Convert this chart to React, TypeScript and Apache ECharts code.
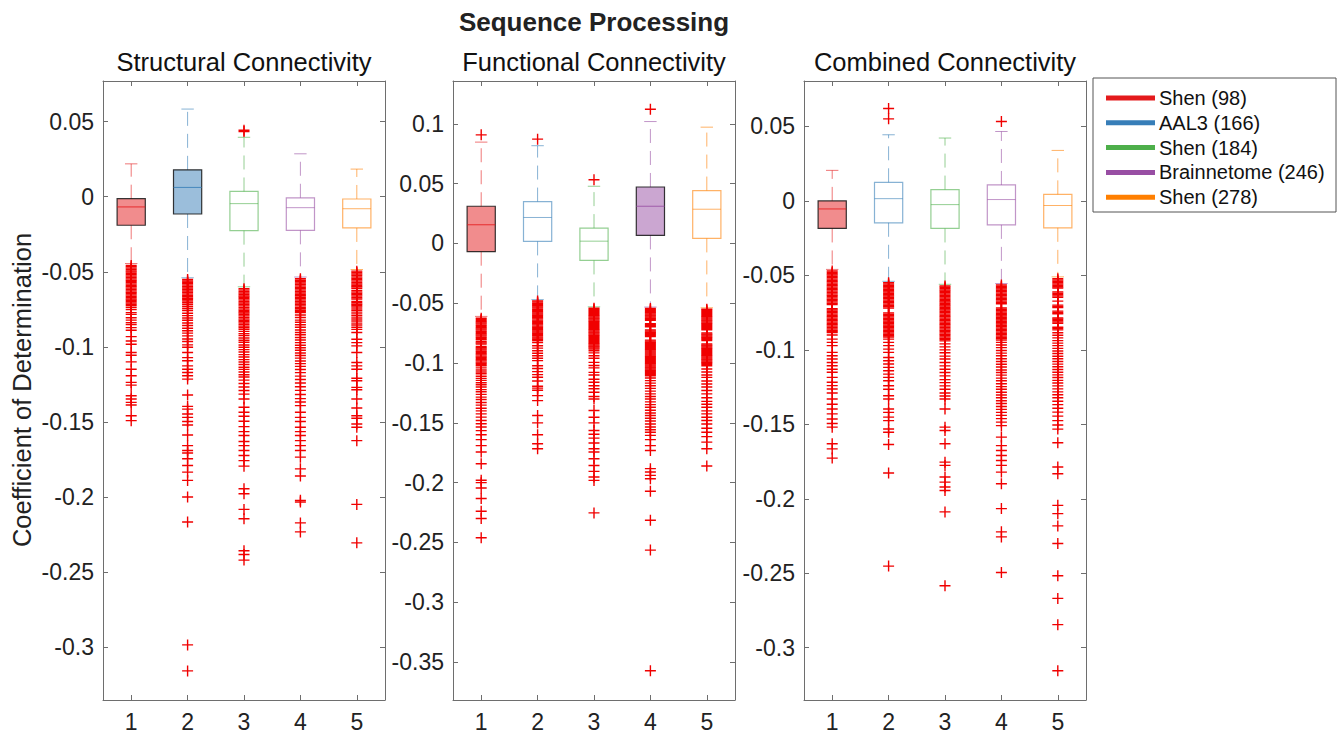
import React, { useEffect, useRef } from "react";
import * as echarts from "echarts";

const categories = ["1", "2", "3", "4", "5"];
const groupNames = ["Shen (98)", "AAL3 (166)", "Shen (184)", "Brainnetome (246)", "Shen (278)"];
const palette = ["#e41a1c", "#377eb8", "#4daf4a", "#984ea3", "#ff7f00"];
const panelTitles = ["Structural Connectivity", "Functional Connectivity", "Combined Connectivity"];
const mainTitle = "Sequence Processing";
const yAxisName = "Coefficient of Determination";

// [lowWhisker, q1, median, q3, highWhisker]
const structuralBoxes = [
  [-0.0445, -0.0190, -0.0068, -0.0013, 0.0219],
  [-0.0540, -0.0115, 0.0062, 0.0179, 0.0584],
  [-0.0600, -0.0226, -0.0046, 0.0035, 0.0396],
  [-0.0535, -0.0224, -0.0073, -0.0007, 0.0286],
  [-0.0485, -0.0208, -0.0080, -0.0015, 0.0184],
];
const functionalBoxes = [
  [-0.0610, -0.0069, 0.0156, 0.0311, 0.0847],
  [-0.0470, 0.0017, 0.0217, 0.0350, 0.0817],
  [-0.0530, -0.0142, 0.0019, 0.0128, 0.0478],
  [-0.0532, 0.0067, 0.0311, 0.0472, 0.1019],
  [-0.0538, 0.0042, 0.0286, 0.0442, 0.0972],
];
const combinedBoxes = [
  [-0.0460, -0.0185, -0.0054, 0.0000, 0.0205],
  [-0.0540, -0.0147, 0.0015, 0.0125, 0.0444],
  [-0.0560, -0.0185, -0.0025, 0.0076, 0.0422],
  [-0.0555, -0.0161, 0.0009, 0.0107, 0.0466],
  [-0.0510, -0.0181, -0.0031, 0.0044, 0.0339],
];

const structuralFilled = [1, 1, 0, 0, 0];
const functionalFilled = [1, 0, 0, 1, 0];
const combinedFilled = [1, 0, 0, 0, 0];

const structuralOutliers = [
  [-0.0458,-0.0467,-0.0476,-0.0485,-0.0494,-0.0502,-0.0511,-0.0520,-0.0529,-0.0538,-0.0547,-0.0556,-0.0564,-0.0573,-0.0582,-0.0591,-0.0600,-0.0609,-0.0618,-0.0627,-0.0636,-0.0645,-0.0654,-0.0663,-0.0672,-0.0681,-0.0690,-0.0699,-0.0708,-0.0717,-0.0726,-0.0739,-0.0752,-0.0772,-0.0784,-0.0806,-0.0822,-0.0839,-0.0851,-0.0872,-0.0890,-0.0932,-0.0961,-0.0983,-0.1038,-0.1056,-0.1100,-0.1149,-0.1193,-0.1237,-0.1255,-0.1326,-0.1348,-0.1370,-0.1388,-0.1459,-0.1492],
  [-0.0551,-0.0561,-0.0570,-0.0580,-0.0589,-0.0599,-0.0608,-0.0618,-0.0628,-0.0637,-0.0647,-0.0656,-0.0666,-0.0676,-0.0685,-0.0695,-0.0706,-0.0718,-0.0731,-0.0745,-0.0758,-0.0776,-0.0792,-0.0808,-0.0823,-0.0841,-0.0858,-0.0876,-0.0893,-0.0909,-0.0927,-0.0948,-0.0965,-0.0987,-0.1003,-0.1038,-0.1072,-0.1093,-0.1127,-0.1149,-0.1171,-0.1193,-0.1215,-0.1321,-0.1397,-0.1415,-0.1448,-0.1470,-0.1498,-0.1521,-0.1587,-0.1658,-0.1691,-0.1707,-0.1746,-0.1791,-0.1835,-0.1890,-0.2001,-0.2167,-0.2986,-0.3159],
  [0.0434,0.0443,-0.0613,-0.0622,-0.0632,-0.0641,-0.0651,-0.0661,-0.0670,-0.0680,-0.0689,-0.0699,-0.0708,-0.0718,-0.0727,-0.0737,-0.0747,-0.0756,-0.0766,-0.0775,-0.0785,-0.0794,-0.0804,-0.0814,-0.0823,-0.0833,-0.0842,-0.0852,-0.0862,-0.0871,-0.0883,-0.0897,-0.0912,-0.0925,-0.0941,-0.0956,-0.0970,-0.0988,-0.1003,-0.1019,-0.1034,-0.1052,-0.1068,-0.1085,-0.1101,-0.1118,-0.1136,-0.1150,-0.1168,-0.1186,-0.1201,-0.1222,-0.1244,-0.1268,-0.1291,-0.1315,-0.1348,-0.1403,-0.1436,-0.1463,-0.1496,-0.1532,-0.1565,-0.1591,-0.1631,-0.1658,-0.1691,-0.1724,-0.1758,-0.1795,-0.1946,-0.1979,-0.2083,-0.2145,-0.2359,-0.2384,-0.2421],
  [-0.0546,-0.0556,-0.0565,-0.0575,-0.0584,-0.0594,-0.0603,-0.0613,-0.0622,-0.0632,-0.0641,-0.0651,-0.0660,-0.0670,-0.0680,-0.0689,-0.0699,-0.0708,-0.0718,-0.0727,-0.0737,-0.0746,-0.0756,-0.0765,-0.0772,-0.0788,-0.0805,-0.0822,-0.0836,-0.0853,-0.0870,-0.0888,-0.0905,-0.0920,-0.0938,-0.0955,-0.0972,-0.0990,-0.1006,-0.1023,-0.1041,-0.1058,-0.1075,-0.1094,-0.1112,-0.1130,-0.1151,-0.1172,-0.1195,-0.1218,-0.1241,-0.1266,-0.1290,-0.1318,-0.1345,-0.1368,-0.1392,-0.1436,-0.1470,-0.1498,-0.1536,-0.1565,-0.1591,-0.1625,-0.1658,-0.1691,-0.1735,-0.1813,-0.1861,-0.2023,-0.2034,-0.2173,-0.2233],
  [-0.0496,-0.0505,-0.0515,-0.0524,-0.0534,-0.0543,-0.0553,-0.0562,-0.0572,-0.0581,-0.0591,-0.0600,-0.0610,-0.0624,-0.0634,-0.0643,-0.0653,-0.0662,-0.0672,-0.0681,-0.0697,-0.0706,-0.0716,-0.0725,-0.0735,-0.0748,-0.0760,-0.0775,-0.0790,-0.0802,-0.0815,-0.0828,-0.0842,-0.0855,-0.0870,-0.0884,-0.0905,-0.0950,-0.0972,-0.0994,-0.1038,-0.1104,-0.1127,-0.1149,-0.1209,-0.1226,-0.1270,-0.1286,-0.1348,-0.1408,-0.1459,-0.1476,-0.1514,-0.1536,-0.1625,-0.2050,-0.2306],
];

const functionalOutliers = [
  [0.0908,-0.0625,-0.0635,-0.0645,-0.0655,-0.0665,-0.0675,-0.0685,-0.0695,-0.0705,-0.0715,-0.0725,-0.0735,-0.0745,-0.0755,-0.0765,-0.0775,-0.0785,-0.0795,-0.0805,-0.0822,-0.0832,-0.0842,-0.0862,-0.0872,-0.0882,-0.0892,-0.0902,-0.0912,-0.0922,-0.0932,-0.0942,-0.0952,-0.0962,-0.0972,-0.0982,-0.0992,-0.1002,-0.1012,-0.1022,-0.1040,-0.1058,-0.1075,-0.1090,-0.1110,-0.1128,-0.1145,-0.1165,-0.1182,-0.1200,-0.1222,-0.1240,-0.1262,-0.1285,-0.1305,-0.1330,-0.1352,-0.1378,-0.1400,-0.1425,-0.1452,-0.1480,-0.1508,-0.1535,-0.1565,-0.1600,-0.1640,-0.1690,-0.1744,-0.1842,-0.1980,-0.2000,-0.2044,-0.2133,-0.2239,-0.2300,-0.2461],
  [0.0872,-0.0481,-0.0491,-0.0501,-0.0511,-0.0521,-0.0531,-0.0541,-0.0551,-0.0561,-0.0571,-0.0581,-0.0591,-0.0601,-0.0611,-0.0621,-0.0631,-0.0641,-0.0651,-0.0661,-0.0671,-0.0681,-0.0691,-0.0701,-0.0711,-0.0721,-0.0731,-0.0741,-0.0751,-0.0761,-0.0771,-0.0781,-0.0791,-0.0801,-0.0811,-0.0828,-0.0856,-0.0875,-0.0897,-0.0918,-0.0939,-0.0960,-0.0980,-0.1022,-0.1045,-0.1072,-0.1097,-0.1119,-0.1150,-0.1194,-0.1210,-0.1228,-0.1272,-0.1314,-0.1439,-0.1500,-0.1600,-0.1675,-0.1717],
  [0.0533,-0.0542,-0.0551,-0.0560,-0.0569,-0.0578,-0.0587,-0.0596,-0.0605,-0.0614,-0.0623,-0.0632,-0.0641,-0.0650,-0.0659,-0.0668,-0.0677,-0.0686,-0.0695,-0.0704,-0.0713,-0.0722,-0.0731,-0.0740,-0.0749,-0.0758,-0.0767,-0.0776,-0.0785,-0.0794,-0.0803,-0.0812,-0.0821,-0.0830,-0.0839,-0.0848,-0.0857,-0.0866,-0.0875,-0.0884,-0.0897,-0.0915,-0.0939,-0.0960,-0.0994,-0.1020,-0.1040,-0.1078,-0.1100,-0.1135,-0.1161,-0.1190,-0.1215,-0.1244,-0.1280,-0.1300,-0.1397,-0.1453,-0.1500,-0.1564,-0.1595,-0.1628,-0.1669,-0.1717,-0.1744,-0.1800,-0.1856,-0.1906,-0.1953,-0.1981,-0.2253],
  [0.1122,-0.0544,-0.0553,-0.0562,-0.0571,-0.0580,-0.0589,-0.0598,-0.0607,-0.0616,-0.0625,-0.0634,-0.0643,-0.0670,-0.0679,-0.0688,-0.0697,-0.0724,-0.0733,-0.0742,-0.0751,-0.0760,-0.0769,-0.0778,-0.0808,-0.0817,-0.0826,-0.0835,-0.0844,-0.0853,-0.0862,-0.0871,-0.0880,-0.0889,-0.0898,-0.0907,-0.0916,-0.0925,-0.0934,-0.0943,-0.0952,-0.0961,-0.0970,-0.0979,-0.0988,-0.0997,-0.1006,-0.1015,-0.1024,-0.1033,-0.1042,-0.1051,-0.1060,-0.1069,-0.1078,-0.1087,-0.1096,-0.1106,-0.1125,-0.1147,-0.1168,-0.1190,-0.1212,-0.1235,-0.1258,-0.1280,-0.1300,-0.1325,-0.1348,-0.1370,-0.1394,-0.1418,-0.1439,-0.1462,-0.1485,-0.1510,-0.1535,-0.1558,-0.1578,-0.1605,-0.1640,-0.1690,-0.1731,-0.1883,-0.1911,-0.1939,-0.1967,-0.2072,-0.2314,-0.2564,-0.3572],
  [-0.0550,-0.0559,-0.0568,-0.0577,-0.0586,-0.0595,-0.0604,-0.0613,-0.0622,-0.0631,-0.0640,-0.0649,-0.0658,-0.0667,-0.0676,-0.0685,-0.0694,-0.0703,-0.0712,-0.0721,-0.0748,-0.0757,-0.0766,-0.0775,-0.0784,-0.0793,-0.0802,-0.0811,-0.0840,-0.0849,-0.0858,-0.0867,-0.0876,-0.0885,-0.0894,-0.0903,-0.0912,-0.0921,-0.0930,-0.0939,-0.0948,-0.0957,-0.0966,-0.0975,-0.0984,-0.0993,-0.1002,-0.1011,-0.1022,-0.1050,-0.1075,-0.1100,-0.1120,-0.1150,-0.1175,-0.1200,-0.1230,-0.1258,-0.1290,-0.1320,-0.1345,-0.1369,-0.1400,-0.1425,-0.1453,-0.1480,-0.1510,-0.1545,-0.1578,-0.1615,-0.1661,-0.1717,-0.1861],
];

const combinedOutliers = [
  [-0.0471,-0.0480,-0.0489,-0.0498,-0.0507,-0.0516,-0.0525,-0.0534,-0.0543,-0.0552,-0.0561,-0.0570,-0.0579,-0.0588,-0.0597,-0.0606,-0.0615,-0.0624,-0.0633,-0.0642,-0.0651,-0.0660,-0.0669,-0.0678,-0.0687,-0.0696,-0.0724,-0.0733,-0.0742,-0.0751,-0.0760,-0.0769,-0.0778,-0.0787,-0.0796,-0.0805,-0.0814,-0.0823,-0.0832,-0.0841,-0.0850,-0.0859,-0.0868,-0.0877,-0.0884,-0.0900,-0.0928,-0.0950,-0.0972,-0.1017,-0.1040,-0.1062,-0.1085,-0.1107,-0.1130,-0.1150,-0.1185,-0.1218,-0.1240,-0.1263,-0.1290,-0.1330,-0.1365,-0.1397,-0.1430,-0.1464,-0.1495,-0.1519,-0.1631,-0.1665,-0.1727],
  [0.0551,0.0620,-0.0549,-0.0558,-0.0567,-0.0576,-0.0585,-0.0594,-0.0603,-0.0612,-0.0621,-0.0630,-0.0639,-0.0648,-0.0657,-0.0666,-0.0675,-0.0684,-0.0693,-0.0702,-0.0711,-0.0720,-0.0752,-0.0761,-0.0770,-0.0779,-0.0788,-0.0797,-0.0806,-0.0815,-0.0824,-0.0833,-0.0842,-0.0851,-0.0860,-0.0869,-0.0878,-0.0887,-0.0896,-0.0905,-0.0914,-0.0928,-0.0950,-0.0972,-0.0995,-0.1017,-0.1051,-0.1073,-0.1095,-0.1118,-0.1140,-0.1163,-0.1185,-0.1208,-0.1241,-0.1265,-0.1308,-0.1330,-0.1397,-0.1420,-0.1452,-0.1475,-0.1531,-0.1553,-0.1636,-0.1827,-0.2452],
  [-0.0571,-0.0580,-0.0589,-0.0598,-0.0607,-0.0616,-0.0625,-0.0634,-0.0643,-0.0652,-0.0661,-0.0670,-0.0679,-0.0688,-0.0697,-0.0706,-0.0715,-0.0724,-0.0733,-0.0742,-0.0751,-0.0760,-0.0769,-0.0778,-0.0787,-0.0796,-0.0805,-0.0814,-0.0823,-0.0832,-0.0841,-0.0850,-0.0859,-0.0868,-0.0877,-0.0886,-0.0895,-0.0904,-0.0913,-0.0922,-0.0931,-0.0940,-0.0960,-0.0980,-0.1000,-0.1020,-0.1042,-0.1062,-0.1085,-0.1108,-0.1130,-0.1152,-0.1175,-0.1200,-0.1220,-0.1242,-0.1265,-0.1290,-0.1310,-0.1330,-0.1397,-0.1519,-0.1542,-0.1631,-0.1754,-0.1776,-0.1854,-0.1888,-0.1921,-0.1944,-0.2088,-0.2584],
  [0.0533,-0.0565,-0.0574,-0.0583,-0.0592,-0.0601,-0.0610,-0.0619,-0.0628,-0.0637,-0.0646,-0.0655,-0.0664,-0.0673,-0.0682,-0.0691,-0.0719,-0.0728,-0.0737,-0.0746,-0.0755,-0.0764,-0.0773,-0.0782,-0.0791,-0.0800,-0.0809,-0.0818,-0.0827,-0.0836,-0.0845,-0.0854,-0.0863,-0.0872,-0.0881,-0.0890,-0.0899,-0.0908,-0.0917,-0.0926,-0.0935,-0.0950,-0.0968,-0.0985,-0.1004,-0.1022,-0.1040,-0.1060,-0.1078,-0.1097,-0.1115,-0.1135,-0.1152,-0.1170,-0.1190,-0.1208,-0.1228,-0.1247,-0.1265,-0.1285,-0.1303,-0.1322,-0.1342,-0.1360,-0.1380,-0.1400,-0.1420,-0.1440,-0.1462,-0.1485,-0.1509,-0.1586,-0.1643,-0.1676,-0.1709,-0.1743,-0.1776,-0.1821,-0.1899,-0.2066,-0.2222,-0.2256,-0.2495],
  [-0.0522,-0.0531,-0.0540,-0.0549,-0.0558,-0.0567,-0.0576,-0.0585,-0.0611,-0.0620,-0.0629,-0.0638,-0.0647,-0.0673,-0.0700,-0.0709,-0.0716,-0.0740,-0.0749,-0.0758,-0.0786,-0.0795,-0.0804,-0.0813,-0.0822,-0.0848,-0.0857,-0.0866,-0.0885,-0.0902,-0.0920,-0.0938,-0.0955,-0.0972,-0.0990,-0.1008,-0.1025,-0.1043,-0.1060,-0.1078,-0.1096,-0.1114,-0.1132,-0.1150,-0.1168,-0.1186,-0.1205,-0.1223,-0.1242,-0.1262,-0.1282,-0.1302,-0.1322,-0.1345,-0.1368,-0.1392,-0.1418,-0.1445,-0.1475,-0.1505,-0.1532,-0.1624,-0.1787,-0.1832,-0.2044,-0.2100,-0.2182,-0.2300,-0.2517,-0.2669,-0.2845,-0.3155],
];

const structuralTicks = [-0.3, -0.25, -0.2, -0.15, -0.1, -0.05, 0, 0.05];
const functionalTicks = [-0.35, -0.3, -0.25, -0.2, -0.15, -0.1, -0.05, 0, 0.05, 0.1];
const combinedTicks = [-0.3, -0.25, -0.2, -0.15, -0.1, -0.05, 0, 0.05];

const structuralRange = [-0.3353, 0.0771];
const functionalRange = [-0.3817, 0.1358];
const combinedRange = [-0.3351, 0.0805];

const FONT = "'Liberation Sans', Arial, Helvetica, sans-serif";
const AXIS_COLOR = "#6e6e6e";
const TEXT_COLOR = "#222";
const OUTLIER_COLOR = "#f00000";

function rgba(hex: string, a: number) {
  const r = parseInt(hex.slice(1, 3), 16);
  const g = parseInt(hex.slice(3, 5), 16);
  const b = parseInt(hex.slice(5, 7), 16);
  return `rgba(${r},${g},${b},${a})`;
}

function fmt(v: number) {
  if (Math.abs(v) < 1e-9) return "0";
  return String(parseFloat(v.toFixed(3)));
}

function makeRenderItem(filled: number[]) {
  return (params: any, api: any) => {
    const idx = params.dataIndex;
    const i = api.value(0);
    const low = api.coord([i, api.value(1)]);
    const q1 = api.coord([i, api.value(2)]);
    const med = api.coord([i, api.value(3)]);
    const q3 = api.coord([i, api.value(4)]);
    const high = api.coord([i, api.value(5)]);
    const band = api.size([1, 0])[0];
    const bw = band * 0.5;
    const cw = band * 0.22;
    const cx = q1[0];
    const col = palette[idx];
    const isFilled = filled[idx] === 1;
    const light = rgba(col, 0.6);
    const dash = [14, 8];
    return {
      type: "group",
      children: [
        { type: "line", shape: { x1: cx, y1: q3[1], x2: cx, y2: high[1] }, style: { stroke: light, lineWidth: 1, lineDash: dash } },
        { type: "line", shape: { x1: cx, y1: q1[1], x2: cx, y2: low[1] }, style: { stroke: light, lineWidth: 1, lineDash: dash } },
        { type: "line", shape: { x1: cx - cw / 2, y1: high[1], x2: cx + cw / 2, y2: high[1] }, style: { stroke: light, lineWidth: 1 } },
        { type: "line", shape: { x1: cx - cw / 2, y1: low[1], x2: cx + cw / 2, y2: low[1] }, style: { stroke: light, lineWidth: 1 } },
        {
          type: "rect",
          shape: { x: cx - bw / 2, y: q3[1], width: bw, height: q1[1] - q3[1] },
          style: {
            fill: isFilled ? rgba(col, 0.5) : "rgba(255,255,255,0)",
            stroke: isFilled ? "rgba(20,20,20,0.85)" : light,
            lineWidth: 1.2,
          },
        },
        { type: "line", shape: { x1: cx - bw / 2, y1: med[1], x2: cx + bw / 2, y2: med[1] }, style: { stroke: isFilled ? rgba(col, 0.85) : light, lineWidth: 1 } },
      ],
    };
  };
}

const panels = [
  { boxes: structuralBoxes, outliers: structuralOutliers, filled: structuralFilled, ticks: structuralTicks, range: structuralRange, left: 103 },
  { boxes: functionalBoxes, outliers: functionalOutliers, filled: functionalFilled, ticks: functionalTicks, range: functionalRange, left: 453 },
  { boxes: combinedBoxes, outliers: combinedOutliers, filled: combinedFilled, ticks: combinedTicks, range: combinedRange, left: 804 },
];

const GRID_TOP = 81;
const GRID_H = 621;
const GRID_W = 282;

function buildOption() {
  const grid: any[] = [];
  const xAxis: any[] = [];
  const yAxis: any[] = [];
  const series: any[] = [];
  const lineStyle = { color: AXIS_COLOR, width: 1 };

  panels.forEach((p, g) => {
    grid.push({ left: p.left, top: GRID_TOP, width: GRID_W, height: GRID_H, containLabel: false });
    xAxis.push({
      type: "category", gridIndex: g, data: categories, boundaryGap: true, position: "bottom",
      axisLine: { show: true, onZero: false, lineStyle },
      axisTick: { show: true, inside: true, alignWithLabel: true, length: 5, lineStyle },
      axisLabel: { fontSize: 23, color: TEXT_COLOR, fontFamily: FONT, margin: 10 },
      splitLine: { show: false },
    });
    yAxis.push({
      type: "value", gridIndex: g, min: p.range[0], max: p.range[1], position: "left",
      axisLine: { show: true, onZero: false, lineStyle },
      axisTick: { show: true, inside: true, length: 5, lineStyle, customValues: p.ticks },
      axisLabel: { fontSize: 23, color: TEXT_COLOR, fontFamily: FONT, margin: 9, customValues: p.ticks, formatter: (v: number) => fmt(v) },
      splitLine: { show: false },
    });
  });
  panels.forEach((p, g) => {
    xAxis.push({
      type: "category", gridIndex: g, data: categories, boundaryGap: true, position: "top",
      axisLine: { show: true, onZero: false, lineStyle },
      axisTick: { show: true, inside: true, alignWithLabel: true, length: 5, lineStyle },
      axisLabel: { show: false },
      splitLine: { show: false },
    });
    yAxis.push({
      type: "value", gridIndex: g, min: p.range[0], max: p.range[1], position: "right",
      axisLine: { show: true, onZero: false, lineStyle },
      axisTick: { show: true, inside: true, length: 5, lineStyle, customValues: p.ticks },
      axisLabel: { show: false },
      splitLine: { show: false },
    });
  });

  panels.forEach((p, g) => {
    series.push({
      type: "custom",
      xAxisIndex: g,
      yAxisIndex: g,
      renderItem: makeRenderItem(p.filled),
      encode: { x: 0, y: [1, 2, 3, 4, 5] },
      data: p.boxes.map((b, i) => [i, ...b]),
      silent: true,
      z: 2,
    });
    const pts: number[][] = [];
    p.outliers.forEach((list, i) => list.forEach((v) => pts.push([i, v])));
    series.push({
      type: "scatter",
      xAxisIndex: g,
      yAxisIndex: g,
      data: pts,
      symbol: "path://M5,0L5,10M0,5L10,5",
      symbolSize: 11,
      itemStyle: { color: "rgba(0,0,0,0)", borderColor: OUTLIER_COLOR, borderWidth: 1.4, opacity: 1 },
      silent: true,
      z: 3,
    });
  });

  const graphic: any[] = [];
  graphic.push({
    type: "text", x: 594, y: 22,
    style: { text: mainTitle, font: `bold 26px ${FONT}`, fill: "#222", textAlign: "center", textVerticalAlign: "middle" },
  });
  panels.forEach((p, g) => {
    graphic.push({
      type: "text", x: p.left + GRID_W / 2, y: 62,
      style: { text: panelTitles[g], font: `25.5px ${FONT}`, fill: "#111", textAlign: "center", textVerticalAlign: "middle" },
    });
  });
  graphic.push({
    type: "text", x: 22, y: 390, rotation: Math.PI / 2,
    style: { text: yAxisName, font: `25.5px ${FONT}`, fill: "#222", textAlign: "center", textVerticalAlign: "middle" },
  });
  const legendChildren: any[] = [
    { type: "rect", shape: { x: 1093, y: 78, width: 243, height: 134 }, style: { fill: "#fff", stroke: "#555", lineWidth: 1 } },
  ];
  groupNames.forEach((name, i) => {
    const y = 98 + i * 24.8;
    legendChildren.push({ type: "line", shape: { x1: 1106, y1: y, x2: 1155, y2: y }, style: { stroke: palette[i], lineWidth: 5 } });
    legendChildren.push({ type: "text", x: 1159, y, style: { text: name, font: `20px ${FONT}`, fill: "#111", textAlign: "left", textVerticalAlign: "middle" } });
  });
  graphic.push({ type: "group", children: legendChildren });

  return { animation: false, backgroundColor: "#fff", grid, xAxis, yAxis, series, graphic };
}

export default function App() {
  const ref = useRef<HTMLDivElement>(null);
  useEffect(() => {
    if (!ref.current) return;
    const chart = echarts.init(ref.current, undefined, { renderer: "svg" });
    chart.setOption(buildOption() as any);
    return () => chart.dispose();
  }, []);
  return <div ref={ref} style={{ position: "fixed", left: 0, top: 0, width: 1341, height: 733, background: "#fff" }} />;
}
